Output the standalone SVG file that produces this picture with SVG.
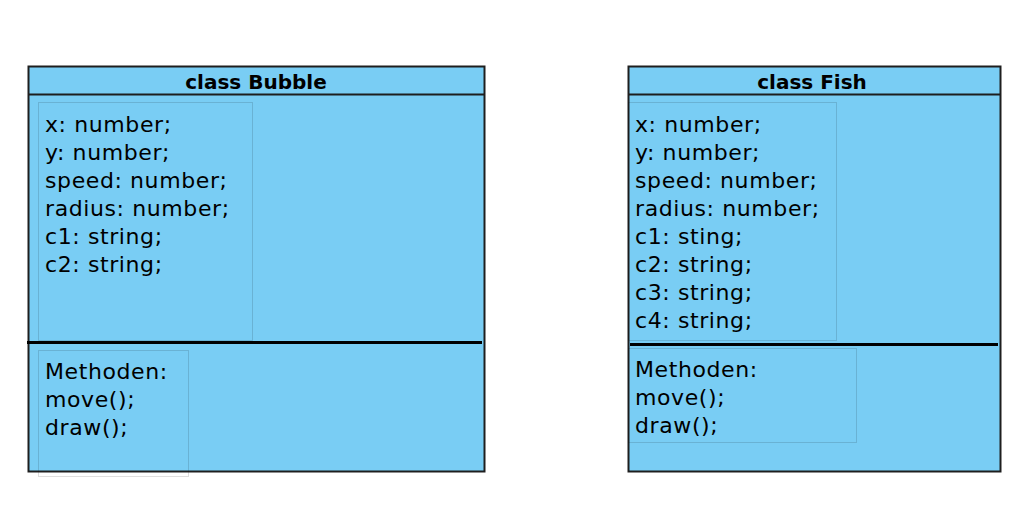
<svg xmlns="http://www.w3.org/2000/svg" width="1030" height="526" viewBox="0 0 1030 526">
<style>
.outer{fill:#79cdf4;stroke:#1e1e1e;stroke-width:2}
.hline{stroke:#1e1e1e;stroke-width:2}
.sep{stroke:#000;stroke-width:3}
.inner{fill:none;stroke:#000;stroke-opacity:0.13;stroke-width:1}
.title{font-family:"DejaVu Sans",Verdana,sans-serif;font-weight:bold;font-size:20px;fill:#000;text-anchor:middle}
.txt{font-family:"DejaVu Sans",Verdana,sans-serif;font-size:22px;letter-spacing:0.6px;fill:#000}
</style>
<rect width="1030" height="526" fill="#fff"/>
<g id="bubble">
<rect class="outer" x="28.5" y="66.5" width="456" height="405"/>
<line class="hline" x1="28.5" y1="94.5" x2="484.5" y2="94.5"/>
<text class="title" x="256" y="88.5">class Bubble</text>
<rect class="inner" x="38.5" y="102.5" width="214" height="238"/>
<text class="txt" x="45">
<tspan x="45" y="131.5">x: number;</tspan>
<tspan x="45" y="159.5">y: number;</tspan>
<tspan x="45" y="187.5">speed: number;</tspan>
<tspan x="45" y="215.5">radius: number;</tspan>
<tspan x="45" y="243.5">c1: string;</tspan>
<tspan x="45" y="271.5">c2: string;</tspan>
</text>
<line class="sep" x1="27" y1="342.5" x2="482" y2="342.5"/>
<rect class="inner" x="38.5" y="350.5" width="150" height="126"/>
<text class="txt">
<tspan x="45" y="379">Methoden:</tspan>
<tspan x="45" y="407">move();</tspan>
<tspan x="45" y="435">draw();</tspan>
</text>
</g>
<g id="fish">
<rect class="outer" x="628.5" y="66.5" width="372" height="405"/>
<line class="hline" x1="628.5" y1="94.5" x2="1000.5" y2="94.5"/>
<text class="title" x="812" y="88.5">class Fish</text>
<rect class="inner" x="628.5" y="102.5" width="208" height="238"/>
<text class="txt">
<tspan x="635" y="131.5">x: number;</tspan>
<tspan x="635" y="159.5">y: number;</tspan>
<tspan x="635" y="187.5">speed: number;</tspan>
<tspan x="635" y="215.5">radius: number;</tspan>
<tspan x="635" y="243.5">c1: sting;</tspan>
<tspan x="635" y="271.5">c2: string;</tspan>
<tspan x="635" y="299.5">c3: string;</tspan>
<tspan x="635" y="327.5">c4: string;</tspan>
</text>
<line class="sep" x1="630" y1="344.5" x2="998" y2="344.5"/>
<rect class="inner" x="628.5" y="348.5" width="228" height="94"/>
<text class="txt">
<tspan x="635" y="377">Methoden:</tspan>
<tspan x="635" y="405">move();</tspan>
<tspan x="635" y="433">draw();</tspan>
</text>
</g>
<g id="connectors"/>
</svg>
